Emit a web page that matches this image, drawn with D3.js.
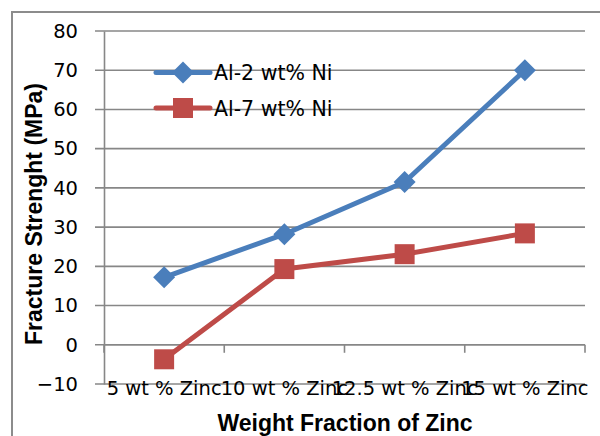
<!DOCTYPE html>
<html>
<head>
<meta charset="utf-8">
<script src="https://cdn.jsdelivr.net/npm/d3@7"></script>
<style>
  body { margin: 0; background: #fff; }
  text { font-family: "DejaVu Sans", sans-serif; }
</style>
</head>
<body>
<div id="chart"></div>
<script>
var categories = ["5 wt % Zinc", "10 wt % Zinc", "12.5 wt % Zinc", "15 wt % Zinc"];
var al2 = [17.2, 28.2, 41.5, 70];
var al7 = [-3.7, 19.3, 23.1, 28.4];
var seriesNames = ["Al-2 wt% Ni", "Al-7 wt% Ni"];
var yTicks = [-10, 0, 10, 20, 30, 40, 50, 60, 70, 80];

var width = 600, height = 436;
var svg = d3.select("#chart").append("svg")
  .attr("width", width).attr("height", height);

var gridColor = "#878787";

// outer chart frame (only top / left visible)
svg.append("path")
  .attr("d", "M12,436 L12,12 L600,12")
  .attr("fill", "none").attr("stroke", "#8c8c8c").attr("stroke-width", 2);

var x = d3.scaleBand().domain(categories).range([104, 585]).padding(0);
var y = d3.scaleLinear().domain([-10, 80]).range([384, 31]);

// gridlines
svg.append("g").selectAll("line")
  .data(yTicks)
  .enter().append("line")
  .attr("x1", 95).attr("x2", 585)
  .attr("y1", function(d){ return y(d); })
  .attr("y2", function(d){ return y(d); })
  .attr("stroke", gridColor).attr("stroke-width", 1.6);

// y axis
var yAxis = svg.append("g")
  .attr("transform", "translate(104,0)")
  .call(d3.axisLeft(y).tickValues(yTicks).tickSize(0).tickPadding(26));
yAxis.select(".domain").attr("stroke", gridColor).attr("stroke-width", 1.6);
yAxis.selectAll("text")
  .attr("font-family", "DejaVu Sans")
  .attr("font-size", "19.5px").attr("fill", "#000");

// x axis line at zero with boundary ticks
svg.append("line")
  .attr("x1", 104).attr("x2", 585)
  .attr("y1", y(0)).attr("y2", y(0))
  .attr("stroke", gridColor).attr("stroke-width", 1.6);
var bounds = categories.map(function(c){ return x(c) + x.bandwidth(); });
bounds.unshift(x.range()[0]);
svg.append("g").selectAll("line")
  .data(bounds)
  .enter().append("line")
  .attr("x1", function(d){ return d; }).attr("x2", function(d){ return d; })
  .attr("y1", y(0)).attr("y2", y(0) + 8)
  .attr("stroke", gridColor).attr("stroke-width", 1.6);

svg.append("g").selectAll("text")
  .data(categories)
  .enter().append("text")
  .attr("x", function(d){ return x(d) + x.bandwidth() / 2; })
  .attr("y", 395)
  .attr("text-anchor", "middle")
  .attr("font-size", "19.5px")
  .attr("fill", "#000")
  .text(function(d){ return d; });

// titles
svg.append("text")
  .attr("x", 345).attr("y", 431)
  .attr("text-anchor", "middle")
  .style("font-family", "Liberation Sans, Arial, sans-serif")
  .attr("font-weight", "bold").attr("font-size", "23px")
  .text("Weight Fraction of Zinc");

svg.append("text")
  .attr("transform", "translate(42,214) rotate(-90)")
  .attr("text-anchor", "middle")
  .style("font-family", "Liberation Sans, Arial, sans-serif")
  .attr("font-weight", "bold").attr("font-size", "23px")
  .text("Fracture Strenght (MPa)");

// series
var series = [
  { name: seriesNames[0], values: al2, color: "#4a7ebb", shape: "diamond" },
  { name: seriesNames[1], values: al7, color: "#be4b48", shape: "square" }
];

function markerPath(shape) {
  if (shape === "diamond") return "M0,-11 L11,0 L0,11 L-11,0 Z";
  return "M-10,-10 L10,-10 L10,10 L-10,10 Z";
}

var line = d3.line()
  .x(function(d, i){ return x(categories[i]) + x.bandwidth() / 2; })
  .y(function(d){ return y(d); });

series.forEach(function(s){
  svg.append("path")
    .datum(s.values)
    .attr("d", line)
    .attr("fill", "none")
    .attr("stroke", s.color).attr("stroke-width", 5)
    .attr("stroke-linejoin", "round").attr("stroke-linecap", "round");
  svg.append("g").selectAll("path")
    .data(s.values)
    .enter().append("path")
    .attr("d", markerPath(s.shape))
    .attr("transform", function(d, i){
      return "translate(" + (x(categories[i]) + x.bandwidth() / 2) + "," + y(d) + ")";
    })
    .attr("fill", s.color);
});

// legend
var legend = svg.append("g");
series.forEach(function(s, i){
  var ly = 72.5 + i * 35.5;
  legend.append("line")
    .attr("x1", 156).attr("x2", 210)
    .attr("y1", ly).attr("y2", ly)
    .attr("stroke", s.color).attr("stroke-width", 5)
    .attr("stroke-linecap", "round");
  legend.append("path")
    .attr("d", markerPath(s.shape))
    .attr("transform", "translate(183," + ly + ")")
    .attr("fill", s.color);
  legend.append("text")
    .attr("x", 214).attr("y", ly + 7.5)
    .attr("font-size", "20.5px")
    .attr("fill", "#000")
    .text(s.name);
});
</script>
</body>
</html>
